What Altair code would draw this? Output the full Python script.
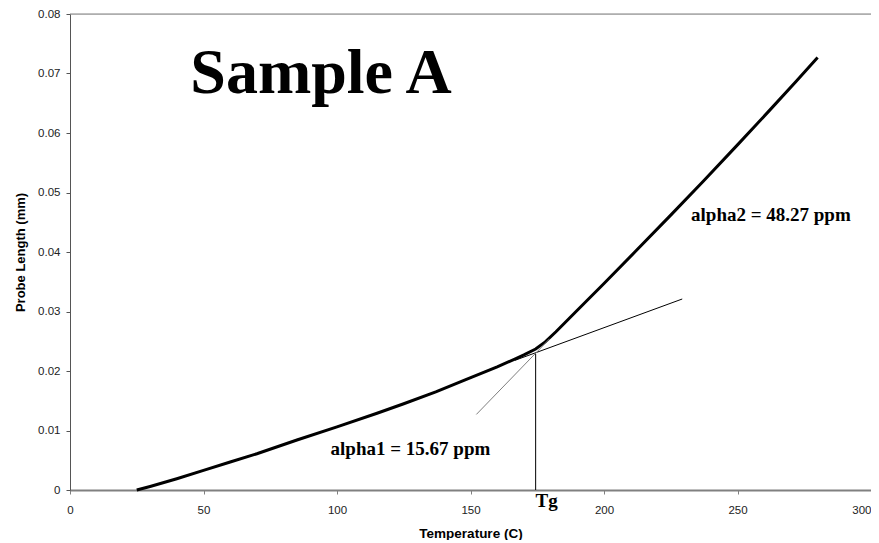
import altair as alt
import pandas as pd

# ---- data ----
CURVE_T = [25, 30, 40, 50, 60, 70, 85, 100, 115, 125, 137, 148, 160, 167, 170, 174.4, 178, 182, 186, 190, 200, 212, 225, 237, 250, 262, 272, 280]
CURVE_L = [0.0000, 0.0006, 0.0019, 0.0033, 0.0047, 0.0061, 0.0084, 0.0106, 0.0129, 0.0145, 0.0165, 0.0185, 0.0207, 0.0221, 0.0227, 0.0237, 0.0249, 0.0266, 0.0284, 0.0302, 0.0347, 0.0402, 0.0462, 0.0518, 0.0580, 0.0638, 0.0687, 0.0727]

LINE_NAME = ["alpha1", "alpha2", "Tg"]
LINE_X1 = [166.7, 152.2, 174.4]
LINE_Y1 = [0.0218, 0.0127, 0.0]
LINE_X2 = [229.3, 179.6, 174.4]
LINE_Y2 = [0.0321, 0.0254, 0.0229]
LINE_COLOR = ["#000000", "#7f7f7f", "#000000"]

X_DOMAIN = [0, 300]
Y_DOMAIN = [0, 0.08]
X_TICKS = [0, 50, 100, 150, 200, 250, 300]
Y_TICKS = [0, 0.01, 0.02, 0.03, 0.04, 0.05, 0.06, 0.07, 0.08]

TITLE_TEXT = ["Sample A"]
TITLE_X = [94]
TITLE_Y = [0.0668]

NOTE_TEXT = ["alpha1 = 15.67 ppm", "alpha2 = 48.27 ppm", "Tg"]
NOTE_X = [127.5, 262.5, 178.5]
NOTE_Y = [0.00586, 0.0452, -0.00285]

curve = pd.DataFrame({"t": CURVE_T, "l": CURVE_L})
lines = pd.DataFrame({"name": LINE_NAME, "x1": LINE_X1, "y1": LINE_Y1,
                      "x2": LINE_X2, "y2": LINE_Y2, "c": LINE_COLOR})
border = pd.DataFrame({"x1": [X_DOMAIN[0]], "x2": [X_DOMAIN[1]], "y": [Y_DOMAIN[1]]})
title_df = pd.DataFrame({"txt": TITLE_TEXT, "x": TITLE_X, "y": TITLE_Y})
notes = pd.DataFrame({"txt": NOTE_TEXT, "x": NOTE_X, "y": NOTE_Y})

FONT = "Liberation Sans"
SERIF = "Liberation Serif"

xscale = alt.Scale(domain=X_DOMAIN, nice=False, zero=False)
yscale = alt.Scale(domain=Y_DOMAIN, nice=False)

xaxis = alt.Axis(values=X_TICKS, title="Temperature (C)", grid=False,
                 labelFlush=False, labelOverlap=False,
                 labelAlign=alt.ConditionalAxisString(
                     condition={"test": "datum.value >= 300", "value": "right"},
                     value="center"),
                 domainColor="#808080", domainWidth=2, tickColor="#808080",
                 tickSize=4, labelPadding=10, labelFont=FONT, labelFontSize=11.5,
                 labelColor="#222222", titleFont=FONT, titleFontSize=13.5,
                 titleFontWeight="bold", titleColor="#000000", titlePadding=11)
yaxis = alt.Axis(values=Y_TICKS, title="Probe Length (mm)", grid=False,
                 labelFlush=False, labelOverlap=False,
                 labelExpr="datum.value == 0 ? '0' : format(datum.value, '.2f')",
                 domainColor="#555555", domainWidth=1, tickColor="#555555",
                 tickSize=4, labelPadding=6, labelFont=FONT, labelFontSize=11.5,
                 labelColor="#222222", titleFont=FONT, titleFontSize=13,
                 titleFontWeight="bold", titleColor="#000000", titlePadding=10)

base_curve = alt.Chart(curve).mark_line(color="black", strokeWidth=3).encode(
    x=alt.X("t:Q", scale=xscale, axis=xaxis),
    y=alt.Y("l:Q", scale=yscale, axis=yaxis),
    order="t:Q",
)

rules = alt.Chart(lines).mark_rule(strokeWidth=1).encode(
    x="x1:Q", y="y1:Q", x2="x2:Q", y2="y2:Q",
    color=alt.Color("c:N", scale=None),
)

top = alt.Chart(border).mark_rule(color="#808080", strokeWidth=1).encode(
    x="x1:Q", x2="x2:Q", y="y:Q",
)

big = alt.Chart(title_df).mark_text(font=SERIF, fontSize=64, fontWeight="bold",
                                    align="center", baseline="alphabetic",
                                    color="black").encode(
    x="x:Q", y="y:Q", text="txt:N")

small = alt.Chart(notes).mark_text(font=SERIF, fontSize=19, fontWeight="bold",
                                   align="center", baseline="alphabetic",
                                   color="black").encode(
    x="x:Q", y="y:Q", text="txt:N")

chart = alt.layer(top, base_curve, rules, big, small).properties(
    width=801, height=476,
    autosize=alt.AutoSizeParams(type="none"),
    padding={"left": 62, "top": 6, "right": 0, "bottom": 50},
).configure_view(stroke=None).configure(background="white")

chart.save("out.html", embed_options={"renderer": "svg", "actions": False})
